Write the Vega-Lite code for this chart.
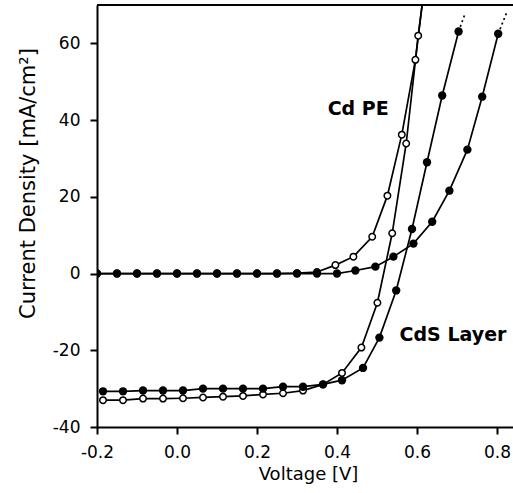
{
  "$schema": "https://vega.github.io/schema/vega-lite/v6.json",
  "width": 416,
  "height": 422,
  "autosize": {"type": "none"},
  "padding": {"left": 97, "top": 5, "right": 0, "bottom": 66},
  "background": "white",
  "config": {
    "view": {"stroke": null},
    "font": "DejaVu Sans",
    "axis": {
      "grid": false,
      "domainColor": "black",
      "domainWidth": 2,
      "tickColor": "black",
      "tickWidth": 2,
      "tickSize": 7,
      "labelColor": "black",
      "labelFont": "DejaVu Sans",
      "labelFontSize": 17,
      "labelFlush": false,
      "labelOverlap": false,
      "titleColor": "black",
      "titleFont": "DejaVu Sans",
      "titleFontWeight": "normal"
    }
  },
  "datasets": {
    "curves": [
      {"s": "CdPE dark", "k": "open", "x": -0.2, "y": 0},
      {"s": "CdPE dark", "k": "open", "x": -0.15, "y": 0},
      {"s": "CdPE dark", "k": "open", "x": -0.1, "y": 0},
      {"s": "CdPE dark", "k": "open", "x": -0.05, "y": 0},
      {"s": "CdPE dark", "k": "open", "x": 0.0, "y": 0},
      {"s": "CdPE dark", "k": "open", "x": 0.05, "y": 0},
      {"s": "CdPE dark", "k": "open", "x": 0.1, "y": 0},
      {"s": "CdPE dark", "k": "open", "x": 0.15, "y": 0},
      {"s": "CdPE dark", "k": "open", "x": 0.2, "y": 0},
      {"s": "CdPE dark", "k": "open", "x": 0.25, "y": 0},
      {"s": "CdPE dark", "k": "open", "x": 0.3, "y": 0.1},
      {"s": "CdPE dark", "k": "open", "x": 0.35, "y": 0.4},
      {"s": "CdPE dark", "k": "open", "x": 0.396, "y": 2.2},
      {"s": "CdPE dark", "k": "open", "x": 0.441, "y": 4.4},
      {"s": "CdPE dark", "k": "open", "x": 0.488, "y": 9.6},
      {"s": "CdPE dark", "k": "open", "x": 0.526, "y": 20.3},
      {"s": "CdPE dark", "k": "open", "x": 0.562, "y": 36.2},
      {"s": "CdPE dark", "k": "open", "x": 0.596, "y": 55.7},
      {"s": "CdPE dark", "k": "open", "x": 0.622, "y": 78},

      {"s": "CdPE light", "k": "open", "x": -0.185, "y": -33.0},
      {"s": "CdPE light", "k": "open", "x": -0.135, "y": -33.0},
      {"s": "CdPE light", "k": "open", "x": -0.085, "y": -32.6},
      {"s": "CdPE light", "k": "open", "x": -0.035, "y": -32.6},
      {"s": "CdPE light", "k": "open", "x": 0.015, "y": -32.5},
      {"s": "CdPE light", "k": "open", "x": 0.065, "y": -32.3},
      {"s": "CdPE light", "k": "open", "x": 0.115, "y": -32.1},
      {"s": "CdPE light", "k": "open", "x": 0.165, "y": -31.9},
      {"s": "CdPE light", "k": "open", "x": 0.215, "y": -31.5},
      {"s": "CdPE light", "k": "open", "x": 0.265, "y": -31.2},
      {"s": "CdPE light", "k": "open", "x": 0.315, "y": -30.5},
      {"s": "CdPE light", "k": "open", "x": 0.365, "y": -28.9},
      {"s": "CdPE light", "k": "open", "x": 0.4125, "y": -25.9},
      {"s": "CdPE light", "k": "open", "x": 0.461, "y": -19.3},
      {"s": "CdPE light", "k": "open", "x": 0.501, "y": -7.6},
      {"s": "CdPE light", "k": "open", "x": 0.538, "y": 10.5},
      {"s": "CdPE light", "k": "open", "x": 0.573, "y": 33.9},
      {"s": "CdPE light", "k": "open", "x": 0.603, "y": 62.0},
      {"s": "CdPE light", "k": "open", "x": 0.623, "y": 78},

      {"s": "CdS dark", "k": "filled", "x": -0.2, "y": 0},
      {"s": "CdS dark", "k": "filled", "x": -0.15, "y": 0},
      {"s": "CdS dark", "k": "filled", "x": -0.1, "y": 0},
      {"s": "CdS dark", "k": "filled", "x": -0.05, "y": 0},
      {"s": "CdS dark", "k": "filled", "x": 0.0, "y": 0},
      {"s": "CdS dark", "k": "filled", "x": 0.05, "y": 0},
      {"s": "CdS dark", "k": "filled", "x": 0.1, "y": 0},
      {"s": "CdS dark", "k": "filled", "x": 0.15, "y": 0},
      {"s": "CdS dark", "k": "filled", "x": 0.2, "y": 0},
      {"s": "CdS dark", "k": "filled", "x": 0.25, "y": 0},
      {"s": "CdS dark", "k": "filled", "x": 0.3, "y": 0},
      {"s": "CdS dark", "k": "filled", "x": 0.35, "y": 0},
      {"s": "CdS dark", "k": "filled", "x": 0.4, "y": 0},
      {"s": "CdS dark", "k": "filled", "x": 0.446, "y": 0.8},
      {"s": "CdS dark", "k": "filled", "x": 0.496, "y": 1.8},
      {"s": "CdS dark", "k": "filled", "x": 0.541, "y": 4.4},
      {"s": "CdS dark", "k": "filled", "x": 0.591, "y": 7.8},
      {"s": "CdS dark", "k": "filled", "x": 0.638, "y": 13.5},
      {"s": "CdS dark", "k": "filled", "x": 0.681, "y": 21.6},
      {"s": "CdS dark", "k": "filled", "x": 0.726, "y": 32.3},
      {"s": "CdS dark", "k": "filled", "x": 0.763, "y": 46.1},
      {"s": "CdS dark", "k": "filled", "x": 0.803, "y": 62.5},

      {"s": "CdS light", "k": "filled", "x": -0.185, "y": -30.7},
      {"s": "CdS light", "k": "filled", "x": -0.135, "y": -30.7},
      {"s": "CdS light", "k": "filled", "x": -0.085, "y": -30.5},
      {"s": "CdS light", "k": "filled", "x": -0.035, "y": -30.5},
      {"s": "CdS light", "k": "filled", "x": 0.015, "y": -30.5},
      {"s": "CdS light", "k": "filled", "x": 0.065, "y": -30.0},
      {"s": "CdS light", "k": "filled", "x": 0.115, "y": -30.0},
      {"s": "CdS light", "k": "filled", "x": 0.165, "y": -30.0},
      {"s": "CdS light", "k": "filled", "x": 0.215, "y": -30.0},
      {"s": "CdS light", "k": "filled", "x": 0.265, "y": -29.5},
      {"s": "CdS light", "k": "filled", "x": 0.315, "y": -29.5},
      {"s": "CdS light", "k": "filled", "x": 0.365, "y": -28.9},
      {"s": "CdS light", "k": "filled", "x": 0.4125, "y": -27.8},
      {"s": "CdS light", "k": "filled", "x": 0.465, "y": -24.6},
      {"s": "CdS light", "k": "filled", "x": 0.506, "y": -16.7},
      {"s": "CdS light", "k": "filled", "x": 0.548, "y": -4.4},
      {"s": "CdS light", "k": "filled", "x": 0.5875, "y": 11.6},
      {"s": "CdS light", "k": "filled", "x": 0.625, "y": 29.0},
      {"s": "CdS light", "k": "filled", "x": 0.663, "y": 46.4},
      {"s": "CdS light", "k": "filled", "x": 0.704, "y": 63.1}
    ],
    "dotted": [
      {"s": "CdS light", "x": 0.704, "y": 63.1},
      {"s": "CdS light", "x": 0.721, "y": 68.0},
      {"s": "CdS dark", "x": 0.803, "y": 62.5},
      {"s": "CdS dark", "x": 0.824, "y": 68.0}
    ],
    "labels": [
      {"t": "Cd PE", "x": 0.453, "y": 43.0},
      {"t": "CdS Layer", "x": 0.69, "y": -16.1}
    ]
  },
  "layer": [
    {
      "data": {"name": "curves"},
      "mark": {"type": "line", "color": "black", "strokeWidth": 1.7, "clip": true},
      "encoding": {
        "x": {
          "field": "x", "type": "quantitative",
          "scale": {"domain": [-0.2, 0.84], "nice": false, "zero": false},
          "axis": {
            "title": "Voltage [V]",
            "values": [-0.2, 0, 0.2, 0.4, 0.6, 0.8],
            "labelExpr": "replace(format(datum.value, '.1f'), '\u2212', '-')",
            "labelPadding": 10,
            "titleFontSize": 18,
            "titleX": 211,
            "titleY": 52,
            "titleAlign": "center",
            "titleBaseline": "alphabetic"
          }
        },
        "y": {
          "field": "y", "type": "quantitative",
          "scale": {"domain": [-40, 70], "nice": false, "zero": false},
          "axis": {
            "title": "Current Density [mA/cm²]",
            "values": [-40, -20, 0, 20, 40, 60],
            "labelExpr": "replace(format(datum.value, 'd'), '\u2212', '-')",
            "labelPadding": 10,
            "titleFontSize": 21,
            "titleX": -69,
            "titleY": 178,
            "titleAlign": "center",
            "titleBaseline": "middle"
          }
        },
        "detail": {"field": "s"}
      }
    },
    {
      "data": {"name": "dotted"},
      "mark": {"type": "line", "color": "black", "strokeWidth": 1.7, "strokeDash": [2, 3], "clip": true},
      "encoding": {
        "x": {"field": "x", "type": "quantitative"},
        "y": {"field": "y", "type": "quantitative"},
        "detail": {"field": "s"}
      }
    },
    {
      "data": {"name": "curves"},
      "transform": [{"filter": "datum.k == 'open'"}],
      "mark": {"type": "point", "shape": "circle", "filled": false, "fill": "white", "stroke": "black", "strokeWidth": 1.5, "size": 42, "opacity": 1, "clip": true},
      "encoding": {
        "x": {"field": "x", "type": "quantitative"},
        "y": {"field": "y", "type": "quantitative"}
      }
    },
    {
      "data": {"name": "curves"},
      "transform": [{"filter": "datum.k == 'filled'"}],
      "mark": {"type": "circle", "color": "black", "size": 70, "opacity": 1, "clip": true},
      "encoding": {
        "x": {"field": "x", "type": "quantitative"},
        "y": {"field": "y", "type": "quantitative"}
      }
    },
    {
      "data": {"name": "labels"},
      "mark": {"type": "text", "font": "DejaVu Sans", "fontSize": 19, "fontWeight": "bold", "color": "black", "align": "center", "baseline": "middle"},
      "encoding": {
        "x": {"field": "x", "type": "quantitative"},
        "y": {"field": "y", "type": "quantitative"},
        "text": {"field": "t"}
      }
    },
    {
      "data": {"values": [{}]},
      "mark": {"type": "rule", "color": "black", "strokeWidth": 2},
      "encoding": {"y": {"datum": 70}}
    }
  ]
}
